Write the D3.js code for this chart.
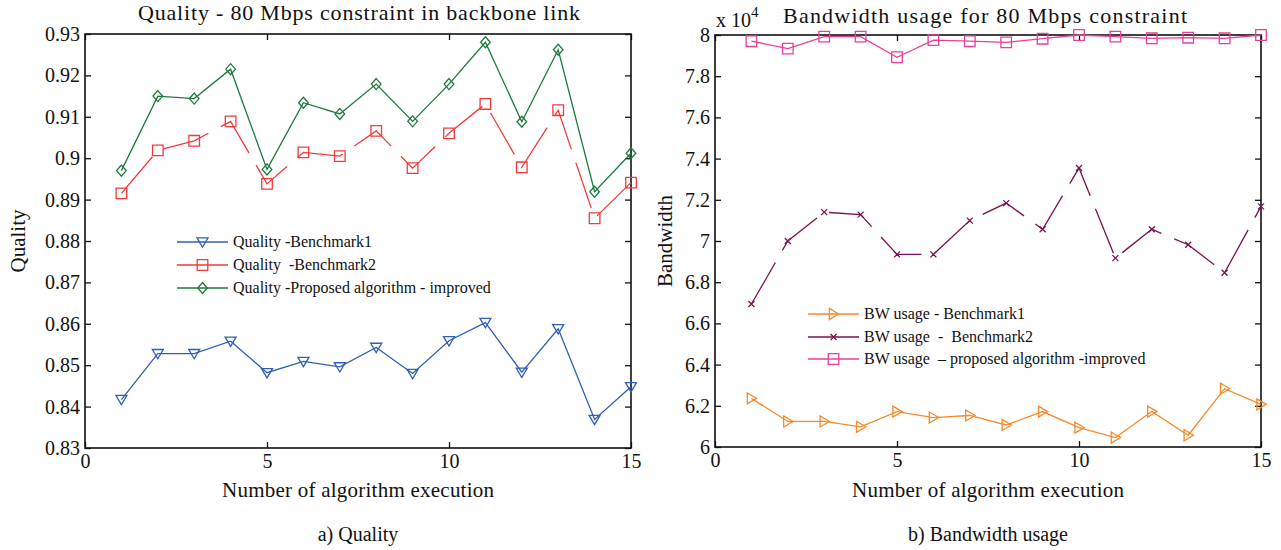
<!DOCTYPE html>
<html>
<head>
<meta charset="utf-8">
<script src="https://cdn.jsdelivr.net/npm/d3@7"></script>
<style>
  body { margin: 0; background: #fff; }
  svg, svg text { font-family: "Liberation Serif", "Times New Roman", serif; }
  svg { display: block; }
</style>
</head>
<body>
<div id="chart"></div>
<script>
// Données
const runs = [1, 2, 3, 4, 5, 6, 7, 8, 9, 10, 11, 12, 13, 14, 15];

const qualityBench1 = [0.8417, 0.8528, 0.8528, 0.8558, 0.8482, 0.8509, 0.8496, 0.8543, 0.8480, 0.8559, 0.8603, 0.8483, 0.8588, 0.8369, 0.8448];
const qualityBench2 = [0.8915, 0.9019, 0.9042, 0.9089, 0.8938, 0.9014, 0.9005, 0.9066, 0.8976, 0.9060, 0.9131, 0.8978, 0.9116, 0.8855, 0.8941];
const qualityProposed = [0.8970, 0.9150, 0.9144, 0.9215, 0.8973, 0.9134, 0.9107, 0.9179, 0.9089, 0.9179, 0.9280, 0.9088, 0.9262, 0.8919, 0.9012];

const bwBench1 = [62360, 61240, 61240, 60980, 61720, 61430, 61530, 61070, 61720, 60940, 60460, 61720, 60570, 62830, 62070];
const bwBench2 = [66940, 70000, 71400, 71280, 69350, 69350, 70990, 71840, 70570, 73540, 69170, 70570, 69820, 68460, 71680];
const bwProposed = [79700, 79340, 79920, 79920, 78920, 79750, 79700, 79640, 79820, 80000, 79920, 79840, 79870, 79840, 80000];

const xTicks = [0, 5, 10, 15];
const qualityTicks = [0.83, 0.84, 0.85, 0.86, 0.87, 0.88, 0.89, 0.90, 0.91, 0.92, 0.93];
const bwTicks = [60000, 62000, 64000, 66000, 68000, 70000, 72000, 74000, 76000, 78000, 80000];

const width = 1281;
const height = 550;

const svg = d3.select("#chart")
    .append("svg")
    .attr("width", width)
    .attr("height", height);

// Formes des marqueurs (centrées sur 0,0)
const markers = {
    triDown: s => `M${-s},${-s * 0.75}L${s},${-s * 0.75}L0,${s * 0.95}Z`,
    triRight: s => `M${-s * 0.75},${-s}L${-s * 0.75},${s}L${s * 0.95},0Z`,
    square: s => `M${-s},${-s}h${2 * s}v${2 * s}h${-2 * s}Z`,
    diamond: s => `M0,${-s * 1.15}L${s},0L0,${s * 1.15}L${-s},0Z`,
    cross: s => `M${-s},${-s}L${s},${s}M${-s},${s}L${s},${-s}`
};

// Style commun des axes : on enlève la police sans-serif imposée par d3
function styleAxis(a) {
    a.select(".domain").remove();
    a.attr("font-family", null).attr("font-size", null);
    a.selectAll(".tick text").attr("font-size", "20px").attr("fill", "#111");
    a.selectAll(".tick line").attr("stroke", "#111").attr("stroke-width", 1.3);
}

function drawPanel(cfg) {
    const g = svg.append("g");
    const x = d3.scaleLinear().domain([0, 15]).range([cfg.left, cfg.left + cfg.w]);
    const y = d3.scaleLinear().domain(cfg.yDomain).range([cfg.top + cfg.h, cfg.top]);

    // Axes avec graduations vers l'intérieur
    g.append("g")
        .attr("transform", `translate(0,${cfg.top + cfg.h})`)
        .call(d3.axisBottom(x).tickValues(xTicks).tickSizeInner(-6).tickSizeOuter(0).tickPadding(6))
        .call(styleAxis);
    g.append("g")
        .attr("transform", `translate(0,${cfg.top})`)
        .call(d3.axisTop(x).tickValues(xTicks).tickSizeInner(-6).tickSizeOuter(0).tickFormat(""))
        .call(styleAxis);
    g.append("g")
        .attr("transform", `translate(${cfg.left},0)`)
        .call(d3.axisLeft(y).tickValues(cfg.yTicks).tickSizeInner(-6).tickSizeOuter(0).tickPadding(5).tickFormat(cfg.yFormat))
        .call(styleAxis);
    g.append("g")
        .attr("transform", `translate(${cfg.left + cfg.w},0)`)
        .call(d3.axisRight(y).tickValues(cfg.yTicks).tickSizeInner(-6).tickSizeOuter(0).tickFormat(""))
        .call(styleAxis);

    g.append("rect")
        .attr("x", cfg.left).attr("y", cfg.top)
        .attr("width", cfg.w).attr("height", cfg.h)
        .attr("fill", "none").attr("stroke", "#111").attr("stroke-width", 1.6);

    const line = d3.line().x((d, i) => x(runs[i])).y(d => y(d));

    cfg.series.forEach(s => {
        g.append("path")
            .datum(s.values)
            .attr("d", line)
            .attr("fill", "none")
            .attr("stroke", s.color)
            .attr("stroke-width", 1.3)
            .attr("stroke-dasharray", s.dashed ? "48,14" : null);

        g.selectAll(null)
            .data(s.values)
            .enter().append("path")
            .attr("transform", (d, i) => `translate(${x(runs[i])},${y(d)})`)
            .attr("d", markers[s.marker](s.size))
            .attr("fill", "none")
            .attr("stroke", s.color)
            .attr("stroke-width", 1.3);
    });

    // Légende
    cfg.series.forEach((s, i) => {
        const ly = cfg.legendY[i];
        const lx = cfg.legendX;
        g.append("line")
            .attr("x1", lx).attr("x2", lx + 51)
            .attr("y1", ly).attr("y2", ly)
            .attr("stroke", s.color).attr("stroke-width", 1.3);
        g.append("path")
            .attr("transform", `translate(${lx + 25.5},${ly})`)
            .attr("d", markers[s.marker](s.size))
            .attr("fill", "none").attr("stroke", s.color).attr("stroke-width", 1.3);
        g.append("text")
            .attr("x", lx + 56).attr("y", ly)
            .attr("dy", "0.33em")
            .attr("font-size", "16px")
            .attr("fill", "#111")
            .attr("xml:space", "preserve")
            .text(s.label);
    });

    const cx = cfg.left + cfg.w / 2;
    g.append("text")
        .attr("x", cx).attr("y", 497)
        .attr("text-anchor", "middle").attr("font-size", "21px").attr("fill", "#111")
        .attr("textLength", 272).attr("lengthAdjust", "spacing")
        .text("Number of algorithm execution");
    g.append("text")
        .attr("transform", `translate(${cfg.yLabelX},${cfg.top + cfg.h / 2}) rotate(-90)`)
        .attr("text-anchor", "middle").attr("font-size", "21px").attr("fill", "#111")
        .text(cfg.yLabel);
    g.append("text")
        .attr("x", cx).attr("y", 541)
        .attr("text-anchor", "middle").attr("font-size", "20px").attr("fill", "#111")
        .text(cfg.caption);

    return g;
}

const left = drawPanel({
    left: 85, top: 34, w: 546, h: 414,
    yDomain: [0.83, 0.93], yTicks: qualityTicks,
    yFormat: d => String(+d.toFixed(2)),
    yLabel: "Quality", yLabelX: 25,
    caption: "a) Quality",
    legendX: 177, legendY: [242, 265, 288],
    series: [
        { values: qualityBench1, color: "#2f5fb6", marker: "triDown", size: 5.5, label: "Quality -Benchmark1" },
        { values: qualityBench2, color: "#f23a3a", marker: "square", size: 5.3, dashed: true, label: "Quality  -Benchmark2" },
        { values: qualityProposed, color: "#1d7a3c", marker: "diamond", size: 4.8, label: "Quality -Proposed algorithm - improved" }
    ]
});

left.append("text")
    .attr("x", 138).attr("y", 20)
    .attr("font-size", "22px").attr("fill", "#111")
    .attr("textLength", 442).attr("lengthAdjust", "spacing")
    .text("Quality - 80 Mbps constraint in backbone link");

const right = drawPanel({
    left: 715, top: 35, w: 546, h: 412,
    yDomain: [60000, 80000], yTicks: bwTicks,
    yFormat: d => String(+(d / 1e4).toFixed(1)),
    yLabel: "Bandwidth", yLabelX: 672,
    caption: "b) Bandwidth usage",
    legendX: 808, legendY: [314, 337, 359],
    series: [
        { values: bwBench1, color: "#f7892b", marker: "triRight", size: 5.5, label: "BW usage - Benchmark1" },
        { values: bwBench2, color: "#7b1050", marker: "cross", size: 3, dashed: true, label: "BW usage  -  Benchmark2" },
        { values: bwProposed, color: "#ea3f99", marker: "square", size: 5.3, label: "BW usage  – proposed algorithm -improved" }
    ]
});

const expo = right.append("text")
    .attr("x", 716).attr("y", 27)
    .attr("font-size", "20px").attr("fill", "#111");
expo.append("tspan").text("x 10");
expo.append("tspan").attr("dy", -10).attr("font-size", "15px").text("4");

right.append("text")
    .attr("x", 783).attr("y", 23)
    .attr("font-size", "22px").attr("fill", "#111")
    .attr("textLength", 404).attr("lengthAdjust", "spacing")
    .text("Bandwidth usage for 80 Mbps constraint");
</script>
</body>
</html>
